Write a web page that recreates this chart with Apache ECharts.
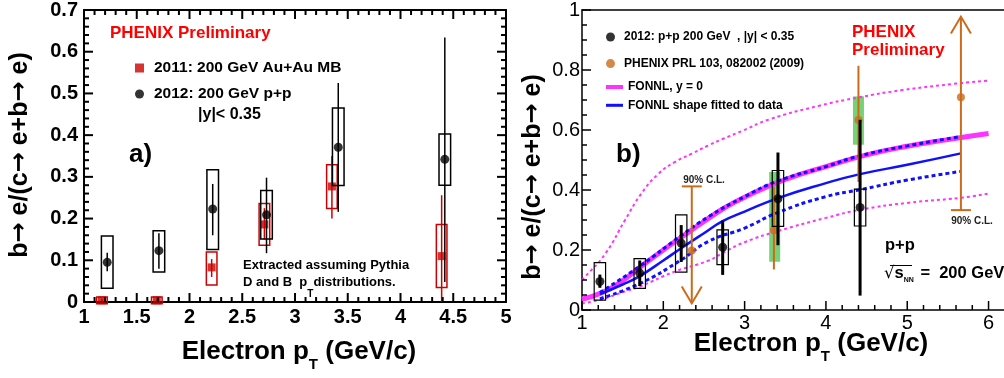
<!DOCTYPE html>
<html>
<head>
<meta charset="utf-8">
<script src="https://cdn.jsdelivr.net/npm/echarts@6/dist/echarts.min.js"></script>
<style>
html, body { margin: 0; padding: 0; background: #fff; }
#chart { width: 1004px; height: 378px; }
</style>
</head>
<body>
<div id="chart"></div>
<script>
// 2012 p+p points (both panels)
const ppX = [1.22, 1.71, 2.22, 2.73, 3.41, 4.42];
const ppY = [0.095, 0.123, 0.223, 0.209, 0.371, 0.342];
const ppSysLo = [0.033, 0.072, 0.126, 0.151, 0.279, 0.280];
const ppSysHi = [0.158, 0.171, 0.317, 0.267, 0.465, 0.403];
const ppStatLo = [0.074, 0.080, 0.160, 0.117, 0.216, 0.048];
const ppStatHi = [0.118, 0.165, 0.283, 0.298, 0.525, 0.634];

// 2011 Au+Au MB points (panel a)
const auX = [1.17, 1.69, 2.21, 2.71, 3.35, 4.39];
const auY = [0.004, 0.004, 0.083, 0.186, 0.277, 0.110];
const auSysLo = [-0.004, -0.004, 0.041, 0.136, 0.224, 0.035];
const auSysHi = [0.012, 0.012, 0.120, 0.236, 0.329, 0.186];
const auStatLo = [0.0, 0.0, 0.060, 0.150, 0.200, 0.0];
const auStatHi = [0.008, 0.008, 0.103, 0.225, 0.350, 0.256];

// PHENIX PRL 103 (panel b)
const prlX = [2.35, 3.36, 4.40, 5.66];
const prlY = [0.198, 0.266, 0.633, 0.709];
const prlLo = [0.022, 0.135, 0.427, 0.333];
const prlHi = [0.412, 0.410, 0.814, 0.978];
const prlLimit = ['upper', '', '', 'lower'];   // 90% C.L. limits
const prlSysX = [3.37, 4.40];
const prlSysLo = [0.161, 0.551];
const prlSysHi = [0.460, 0.712];

// FONNL curves (panel b)
const fonX = [1.0, 1.25, 1.5, 1.75, 2.0, 2.25, 2.5, 2.75, 3.0, 3.5, 4.0, 4.5, 5.0, 5.5, 6.0];
const fonY = [0.036, 0.058, 0.098, 0.150, 0.200, 0.248, 0.295, 0.340, 0.376, 0.435, 0.478, 0.517, 0.546, 0.568, 0.588];
const fonUpX = [1.0, 1.04, 1.29, 1.53, 1.73, 1.94, 2.14, 2.35, 2.55, 2.73, 2.98, 3.3, 3.92, 4.41, 4.94, 5.55, 6.0];
const fonUpY = [0.100, 0.111, 0.189, 0.300, 0.388, 0.454, 0.493, 0.521, 0.548, 0.570, 0.598, 0.635, 0.681, 0.709, 0.733, 0.753, 0.765];
const fonLoX = [1.0, 1.22, 1.53, 1.71, 2.14, 2.55, 2.73, 3.0, 3.41, 4.0, 4.42, 5.0, 5.66, 6.0];
const fonLoY = [0.022, 0.034, 0.062, 0.078, 0.128, 0.164, 0.190, 0.226, 0.263, 0.307, 0.334, 0.357, 0.374, 0.388];
const fitX = [1.22, 1.5, 1.71, 2.0, 2.22, 2.5, 2.73, 3.0, 3.41, 4.0, 4.42, 5.0, 5.66];
const fitY = [0.053, 0.085, 0.113, 0.165, 0.206, 0.256, 0.296, 0.328, 0.373, 0.423, 0.453, 0.484, 0.522];
const fitBandX = [1.22, 1.71, 2.22, 2.55, 3.0, 3.41, 4.0, 4.42, 5.0, 5.66];
const fitBandLo = [0.038, 0.088, 0.167, 0.228, 0.273, 0.325, 0.378, 0.401, 0.433, 0.462];
const fitBandHi = [0.058, 0.146, 0.248, 0.310, 0.378, 0.430, 0.478, 0.514, 0.547, 0.578];

// tick marks (ROOT style, drawn inside the frame)
const aTicksX = [1, 1.5, 2, 2.5, 3, 3.5, 4, 4.5, 5];
const aTicksY = [0, 0.1, 0.2, 0.3, 0.4, 0.5, 0.6, 0.7];
const bTicksX = [1, 2, 3, 4, 5, 6];
const bTicksY = [0, 0.2, 0.4, 0.6, 0.8, 1];

const FONT = 'Liberation Sans';
const RED = '#cc0000';
const ORANGE = '#cc6a1a';
const MAGENTA = '#ff33ff';
const BLUE = '#1010ff';

const zip = (xs, ys) => xs.map((x, i) => [x, ys[i]]);
const zip3 = (xs, lo, hi) => xs.map((x, i) => [x, lo[i], hi[i]]);

// major ticks plus n-1 minor ticks between each pair of majors: [value, length]
function tickList(majors, n) {
    const out = majors.map(v => [v, 9]);
    for (let i = 0; i + 1 < majors.length; i++) {
        const step = (majors[i + 1] - majors[i]) / n;
        for (let k = 1; k < n; k++) out.push([majors[i] + k * step, 5]);
    }
    return out;
}

function tickItem(side, lw) {
    return function (params, api) {
        const p = api.coord([api.value(0), api.value(1)]);
        const len = api.value(2);
        let r;
        if (side === 'bottom') r = { x: p[0] - lw / 2, y: p[1] - len, width: lw, height: len };
        else if (side === 'top') r = { x: p[0] - lw / 2, y: p[1], width: lw, height: len };
        else if (side === 'left') r = { x: p[0], y: p[1] - lw / 2, width: len, height: lw };
        else r = { x: p[0] - len, y: p[1] - lw / 2, width: len, height: lw };
        return { type: 'rect', shape: r, style: { fill: '#000' } };
    };
}

// ticks along x sit at a fixed y edge, ticks along y at a fixed x edge
function tickSeries(idx, side, edge, list, lw) {
    const data = list.map(t => (side === 'bottom' || side === 'top') ? [t[0], edge, t[1]] : [edge, t[0], t[1]]);
    return {
        type: 'custom', name: 'ticks', xAxisIndex: idx, yAxisIndex: idx, z: 9, silent: true, clip: false,
        encode: { x: 0, y: 1 }, renderItem: tickItem(side, lw), data: data
    };
}

function boxItem(color, halfW, lw, fill) {
    return function (params, api) {
        const a = api.coord([api.value(0), api.value(2)]);
        const b = api.coord([api.value(0), api.value(1)]);
        return {
            type: 'rect',
            shape: { x: a[0] - halfW, y: a[1], width: halfW * 2, height: b[1] - a[1] },
            style: fill ? { fill: color } : { fill: 'none', stroke: color, lineWidth: lw }
        };
    };
}

function barItem(color, lw) {
    return function (params, api) {
        const a = api.coord([api.value(0), api.value(1)]);
        const b = api.coord([api.value(0), api.value(2)]);
        return {
            type: 'line',
            shape: { x1: a[0], y1: a[1], x2: b[0], y2: b[1] },
            style: { stroke: color, lineWidth: lw }
        };
    };
}

function limitItem(params, api) {
    const kind = prlLimit[params.dataIndex];
    const lo = api.coord([api.value(0), api.value(1)]);
    const hi = api.coord([api.value(0), api.value(2)]);
    const st = { stroke: ORANGE, lineWidth: 2, fill: 'none' };
    const kids = [{ type: 'line', shape: { x1: lo[0], y1: lo[1], x2: hi[0], y2: hi[1] }, style: st }];
    if (kind === 'upper') {
        kids.push({ type: 'line', shape: { x1: hi[0] - 10, y1: hi[1], x2: hi[0] + 10, y2: hi[1] }, style: st });
        kids.push({ type: 'polyline', shape: { points: [[lo[0] - 10, lo[1] - 17], [lo[0], lo[1]], [lo[0] + 10, lo[1] - 17]] }, style: st });
    } else if (kind === 'lower') {
        kids.push({ type: 'line', shape: { x1: lo[0] - 10, y1: lo[1], x2: lo[0] + 10, y2: lo[1] }, style: st });
        kids.push({ type: 'polyline', shape: { points: [[hi[0] - 10, hi[1] + 17], [hi[0], hi[1]], [hi[0] + 10, hi[1] + 17]] }, style: st });
    }
    return { type: 'group', children: kids };
}

function txt(x, y, text, size, extra) {
    const style = Object.assign({
        text: text, fontSize: size, fontWeight: 'bold', fontFamily: FONT, fill: '#000',
        align: 'left', verticalAlign: 'middle', textAlign: 'left', textVerticalAlign: 'middle'
    }, extra || {});
    return { type: 'text', x: x, y: y, silent: true, z: 20, style: style };
}

function labelStyle(show, bold, margin) {
    return { show: show, fontSize: 20, fontWeight: bold ? 'bold' : 'normal', fontFamily: FONT, color: '#000', margin: margin };
}

function axisX(grid, pos, max, interval, bold, lw) {
    const label = labelStyle(pos === 'bottom', bold, bold ? 5 : 3);
    label.showMaxLabel = (max % interval) < 1e-9;
    return {
        type: 'value', gridIndex: grid, position: pos, min: 1, max: max, interval: interval,
        splitLine: { show: false },
        axisLine: { show: true, onZero: false, lineStyle: { color: '#000', width: lw } },
        axisTick: { show: false },
        axisLabel: label
    };
}

function axisY(grid, pos, max, interval, bold, lw) {
    return {
        type: 'value', gridIndex: grid, position: pos, min: 0, max: max, interval: interval,
        splitLine: { show: false },
        axisLine: { show: true, onZero: false, lineStyle: { color: '#000', width: lw } },
        axisTick: { show: false },
        axisLabel: labelStyle(pos === 'left', bold, bold ? 6 : 2)
    };
}

const titleRich = {
    b: { fontSize: 26, fontWeight: 'bold', fontFamily: FONT, lineHeight: 26, verticalAlign: 'top' },
    s: { fontSize: 15, fontWeight: 'bold', fontFamily: FONT, lineHeight: 15, verticalAlign: 'top', padding: [18, 0, 0, 0] }
};

const yTitleRich = {
    b: { fontSize: 25, fontWeight: 'bold', fontFamily: FONT, lineHeight: 28, verticalAlign: 'middle' },
    a: { fontSize: 24, fontWeight: 'bold', fontFamily: 'DejaVu Sans', lineHeight: 28, verticalAlign: 'middle' }
};
const yTitle = '{b|b}{a|→}{b| e/(c}{a|→}{b| e+b}{a|→}{b| e)}';

const chart = echarts.init(document.getElementById('chart'));
chart.setOption({
    animation: false,
    grid: [
        { left: 84, top: 5, width: 422, height: 297 },
        { left: 582, top: 9, width: 424, height: 301 }
    ],
    xAxis: [
        axisX(0, 'bottom', 5, 0.5, true, 2),
        axisX(0, 'top', 5, 0.5, true, 2),
        axisX(1, 'bottom', 6.19, 1, false, 1.5),
        axisX(1, 'top', 6.19, 1, false, 1.5)
    ],
    yAxis: [
        axisY(0, 'left', 0.7, 0.1, true, 2),
        axisY(0, 'right', 0.7, 0.1, true, 2),
        axisY(1, 'left', 1, 0.2, false, 1.5)
    ],
    legend: [
        {
            left: 130, top: 55, orient: 'vertical', itemWidth: 9, itemHeight: 9, itemGap: 10,
            selectedMode: false,
            textStyle: { fontSize: 15.5, fontWeight: 'bold', fontFamily: FONT, color: '#000', lineHeight: 16, padding: [0, 0, 0, 5] },
            data: ['2011: 200 GeV Au+Au MB', '2012: 200 GeV p+p']
        },
        {
            left: 601, top: 25, orient: 'vertical', itemWidth: 17, itemHeight: 9, itemGap: 12.6,
            selectedMode: false,
            textStyle: { fontSize: 12, fontWeight: 'bold', fontFamily: FONT, color: '#000', lineHeight: 14 },
            data: ['2012: p+p 200 GeV  , |y| < 0.35', 'PHENIX PRL 103, 082002 (2009)']
        },
        {
            left: 601, top: 75, orient: 'vertical', itemWidth: 17, itemHeight: 9, itemGap: 4.3,
            selectedMode: false,
            textStyle: { fontSize: 12, fontWeight: 'bold', fontFamily: FONT, color: '#000', lineHeight: 14 },
            data: [
                { name: 'FONNL, y = 0', icon: 'path://M0,0H17V4H0Z' },
                { name: 'FONNL shape fitted to data', icon: 'path://M0,0H17V3H0Z' }
            ]
        }
    ],
    series: [
        // ---- frame ticks ----
        tickSeries(0, 'bottom', 0, tickList(aTicksX, 5), 2),
        tickSeries(0, 'top', 0.7, tickList(aTicksX, 5), 2),
        tickSeries(0, 'left', 1, tickList(aTicksY, 5), 2),
        tickSeries(0, 'right', 5, tickList(aTicksY, 5), 2),
        { ...tickSeries(0, 'bottom', 0, tickList(bTicksX, 5), 1.5), xAxisIndex: 2, yAxisIndex: 2 },
        { ...tickSeries(0, 'left', 1, tickList(bTicksY, 4), 1.5), xAxisIndex: 2, yAxisIndex: 2 },

        // ---- panel a ----
        { type: 'custom', name: 'auSys', xAxisIndex: 0, yAxisIndex: 0, z: 3, renderItem: boxItem(RED, 5.3, 1.5), data: zip3(auX, auSysLo, auSysHi) },
        { type: 'custom', name: 'auStat', xAxisIndex: 0, yAxisIndex: 0, z: 3, renderItem: barItem(RED, 1.5), data: zip3(auX, auStatLo, auStatHi) },
        { type: 'scatter', name: '2011: 200 GeV Au+Au MB', xAxisIndex: 0, yAxisIndex: 0, z: 4, symbol: 'rect', symbolSize: 8, itemStyle: { color: RED }, data: zip(auX, auY) },
        { type: 'custom', name: 'ppSysA', xAxisIndex: 0, yAxisIndex: 0, z: 5, renderItem: boxItem('#000', 5.8, 1.5), data: zip3(ppX, ppSysLo, ppSysHi) },
        { type: 'custom', name: 'ppStatA', xAxisIndex: 0, yAxisIndex: 0, z: 5, renderItem: barItem('#000', 1.5), data: zip3(ppX, ppStatLo, ppStatHi) },
        { type: 'scatter', name: '2012: 200 GeV p+p', xAxisIndex: 0, yAxisIndex: 0, z: 6, symbol: 'circle', symbolSize: 9, itemStyle: { color: '#000' }, data: zip(ppX, ppY) },

        // ---- panel b ----
        { type: 'custom', name: 'prlSys', xAxisIndex: 2, yAxisIndex: 2, z: 1, renderItem: boxItem('#77d177', 5.5, 0, true), data: zip3(prlSysX, prlSysLo, prlSysHi) },
        { type: 'line', name: 'fonnlUp', xAxisIndex: 2, yAxisIndex: 2, z: 2, smooth: true, symbol: 'none', color: MAGENTA, lineStyle: { color: MAGENTA, width: 2, type: [3, 3] }, data: zip(fonUpX, fonUpY) },
        { type: 'line', name: 'fonnlLo', xAxisIndex: 2, yAxisIndex: 2, z: 2, smooth: true, symbol: 'none', color: MAGENTA, lineStyle: { color: MAGENTA, width: 2, type: [3, 3] }, data: zip(fonLoX, fonLoY) },
        { type: 'line', name: 'FONNL, y = 0', xAxisIndex: 2, yAxisIndex: 2, z: 2, smooth: true, symbol: 'none', color: MAGENTA, itemStyle: { color: MAGENTA }, lineStyle: { color: MAGENTA, width: 5 }, data: zip(fonX, fonY) },
        { type: 'line', name: 'fitHi', xAxisIndex: 2, yAxisIndex: 2, z: 3, smooth: true, symbol: 'none', color: BLUE, lineStyle: { color: BLUE, width: 3, type: [4, 3] }, data: zip(fitBandX, fitBandHi) },
        { type: 'line', name: 'fitLo', xAxisIndex: 2, yAxisIndex: 2, z: 3, smooth: true, symbol: 'none', color: BLUE, lineStyle: { color: BLUE, width: 3, type: [4, 3] }, data: zip(fitBandX, fitBandLo) },
        { type: 'line', name: 'FONNL shape fitted to data', xAxisIndex: 2, yAxisIndex: 2, z: 3, smooth: true, symbol: 'none', color: BLUE, itemStyle: { color: BLUE }, lineStyle: { color: BLUE, width: 2.5 }, data: zip(fitX, fitY) },
        { type: 'custom', name: 'prlErr', xAxisIndex: 2, yAxisIndex: 2, z: 4, renderItem: limitItem, data: zip3(prlX, prlLo, prlHi) },
        { type: 'scatter', name: 'PHENIX PRL 103, 082002 (2009)', xAxisIndex: 2, yAxisIndex: 2, z: 5, symbol: 'circle', symbolSize: 8, itemStyle: { color: ORANGE }, data: zip(prlX, prlY) },
        { type: 'custom', name: 'ppSysB', xAxisIndex: 2, yAxisIndex: 2, z: 6, renderItem: boxItem('#000', 5.7, 1.2), data: zip3(ppX, ppSysLo, ppSysHi) },
        { type: 'custom', name: 'ppStatB', xAxisIndex: 2, yAxisIndex: 2, z: 7, renderItem: barItem('#000', 3), data: zip3(ppX, ppStatLo, ppStatHi) },
        { type: 'scatter', name: '2012: p+p 200 GeV  , |y| < 0.35', xAxisIndex: 2, yAxisIndex: 2, z: 8, symbol: 'circle', symbolSize: 9, itemStyle: { color: '#000' }, data: zip(ppX, ppY) }
    ],
    graphic: [
        // panel a texts
        txt(110, 33, 'PHENIX Preliminary', 17, { fill: '#ff0000' }),
        txt(198, 115, '|y|< 0.35', 16),
        txt(129, 155, 'a)', 26),
        txt(243, 265, 'Extracted assuming Pythia', 13),
        {
            type: 'text', x: 243, y: 276, silent: true, z: 20,
            style: {
                text: '{b|D and B  p}{s|T}{b|distributions.}', fill: '#000', fontFamily: FONT,
                align: 'left', verticalAlign: 'top', textAlign: 'left', textVerticalAlign: 'top',
                rich: {
                    b: { fontSize: 13, fontWeight: 'bold', fontFamily: FONT, lineHeight: 15, verticalAlign: 'top' },
                    s: { fontSize: 10, fontWeight: 'bold', fontFamily: FONT, lineHeight: 10, verticalAlign: 'top', padding: [13, 0, 0, 0] }
                }
            }
        },
        {
            type: 'text', x: 20, y: 155, rotation: Math.PI / 2, silent: true, z: 20,
            style: {
                text: yTitle, fill: '#000', fontFamily: FONT, rich: yTitleRich,
                align: 'center', verticalAlign: 'middle', textAlign: 'center', textVerticalAlign: 'middle'
            }
        },
        {
            type: 'text', x: 299, y: 339, silent: true, z: 20,
            style: {
                text: '{b|Electron p}{s|T}{b| (GeV/c)}', fill: '#000', fontFamily: FONT,
                align: 'center', verticalAlign: 'top', textAlign: 'center', textVerticalAlign: 'top', rich: titleRich
            }
        },
        // panel b texts
        txt(852, 32, 'PHENIX', 17, { fill: '#ff0000' }),
        txt(852, 50, 'Preliminary', 17, { fill: '#ff0000' }),
        txt(616, 155, 'b)', 26),
        txt(704, 180, '90% C.L.', 10, { align: 'center', textAlign: 'center', fill: '#222' }),
        txt(972, 221, '90% C.L.', 10, { align: 'center', textAlign: 'center', fill: '#222' }),
        txt(885, 245, 'p+p', 16.5),
        {
            type: 'text', x: 884, y: 265, silent: true, z: 20,
            style: {
                text: '{r|√}{b|s}{n|NN}{b| =  200 GeV}', fill: '#000', fontFamily: FONT,
                align: 'left', verticalAlign: 'top', textAlign: 'left', textVerticalAlign: 'top',
                rich: {
                    r: { fontSize: 16.5, fontWeight: 'normal', fontFamily: 'DejaVu Sans', lineHeight: 20, verticalAlign: 'top' },
                    b: { fontSize: 16.5, fontWeight: 'bold', fontFamily: FONT, lineHeight: 20, verticalAlign: 'top' },
                    n: { fontSize: 7, fontWeight: 'bold', fontFamily: FONT, lineHeight: 8, verticalAlign: 'top', padding: [12, 2, 0, 0] }
                }
            }
        },
        { type: 'line', silent: true, z: 20, shape: { x1: 890, y1: 265.5, x2: 912, y2: 265.5 }, style: { stroke: '#000', lineWidth: 1 } },
        {
            type: 'text', x: 533, y: 177, rotation: Math.PI / 2, silent: true, z: 20,
            style: {
                text: yTitle, fill: '#000', fontFamily: FONT, rich: yTitleRich,
                align: 'center', verticalAlign: 'middle', textAlign: 'center', textVerticalAlign: 'middle'
            }
        },
        {
            type: 'text', x: 811, y: 331, silent: true, z: 20,
            style: {
                text: '{b|Electron p}{s|T}{b| (GeV/c)}', fill: '#000', fontFamily: FONT,
                align: 'center', verticalAlign: 'top', textAlign: 'center', textVerticalAlign: 'top', rich: titleRich
            }
        }
    ]
});
</script>
</body>
</html>
